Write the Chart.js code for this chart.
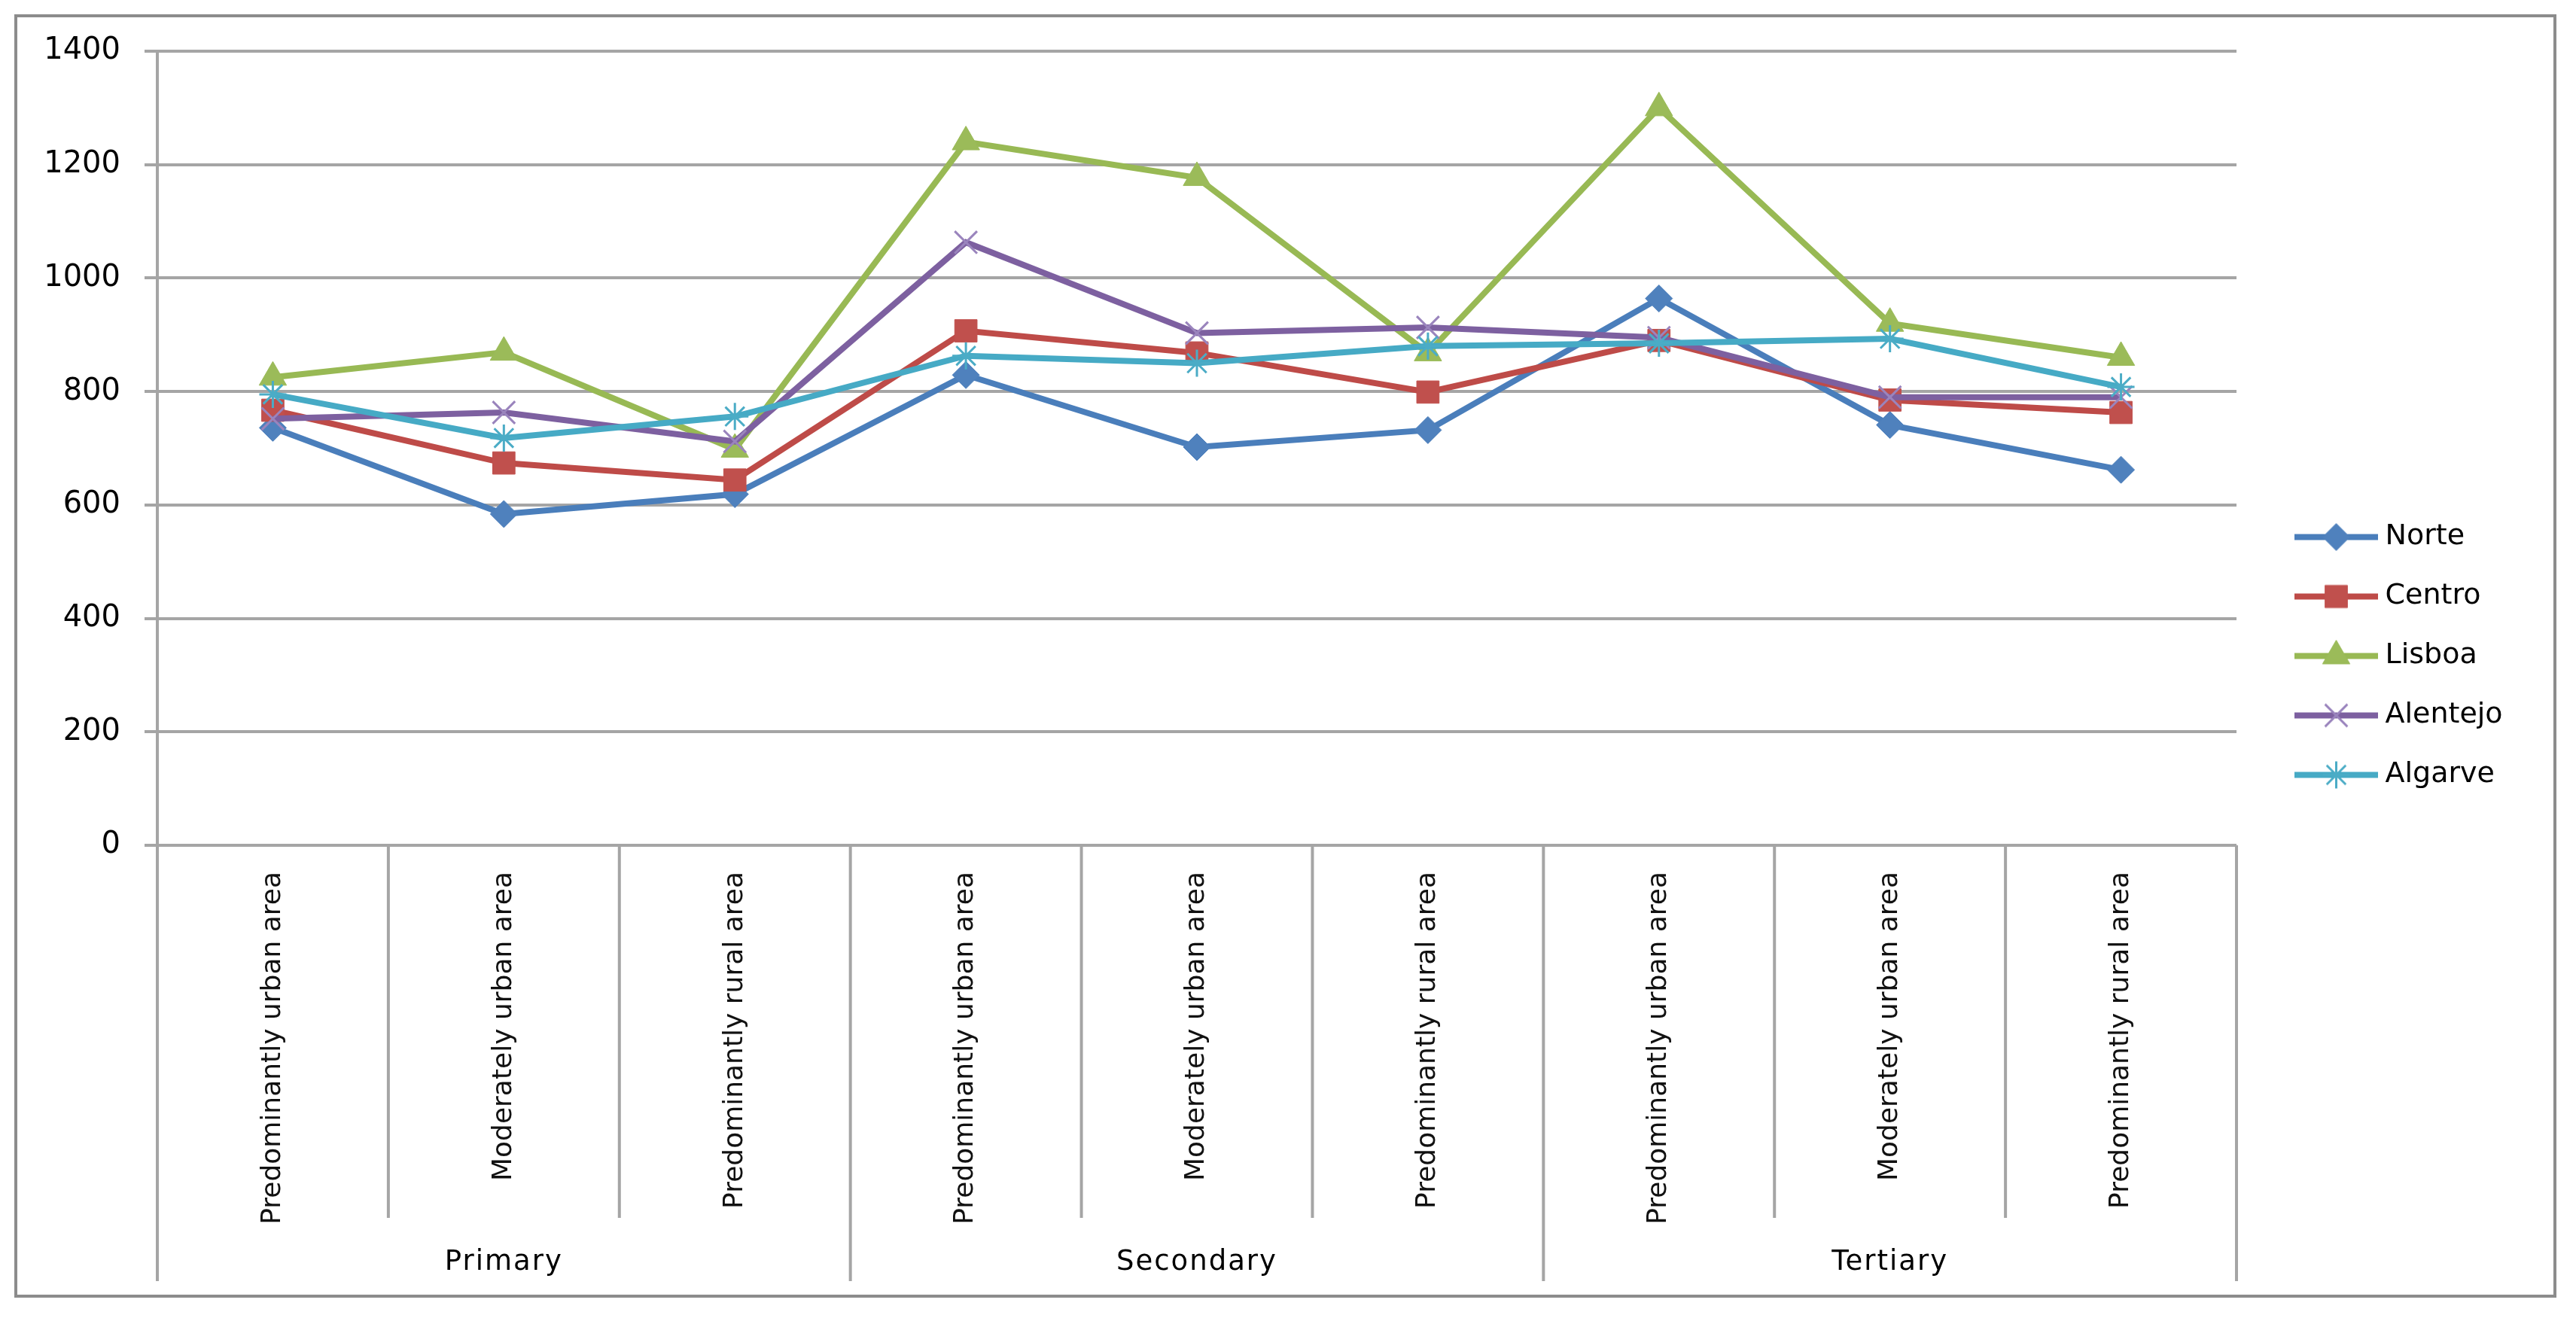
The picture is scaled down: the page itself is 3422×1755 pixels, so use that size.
<!DOCTYPE html>
<html>
<head>
<meta charset="utf-8">
<title>Values by region, sector and area type</title>
<script src="https://cdn.jsdelivr.net/npm/chart.js@4.4.1/dist/chart.umd.min.js"></script>
<style>
  html, body { margin: 0; padding: 0; background: #fff; }
  canvas { display: block; }
</style>
</head>
<body>
<canvas id="chart" width="3422" height="1755"></canvas>
<script>
// --- data ---
const categories = [
  'Predominantly urban area', 'Moderately urban area', 'Predominantly rural area',
  'Predominantly urban area', 'Moderately urban area', 'Predominantly rural area',
  'Predominantly urban area', 'Moderately urban area', 'Predominantly rural area'
];
const groups = ['Primary', 'Secondary', 'Tertiary'];
const yTicks = [0, 200, 400, 600, 800, 1000, 1200, 1400];

const norte    = [736, 584, 619, 829, 702, 732, 964, 741, 662];
const centro   = [767, 674, 644, 907, 868, 799, 890, 785, 763];
const lisboa   = [825, 869, 698, 1240, 1177, 868, 1300, 920, 860];
const alentejo = [752, 763, 712, 1063, 903, 913, 895, 790, 790];
const algarve  = [795, 718, 756, 863, 850, 880, 885, 893, 808];

const GRID = '#a5a5a5';

function series(label, data, color, markerColor, style, radius, markerWidth, order) {
  return {
    label, data, order,
    borderColor: color,
    backgroundColor: color,
    borderWidth: 8,
    tension: 0,
    pointStyle: style,
    pointRadius: radius,
    pointBackgroundColor: markerColor,
    pointBorderColor: markerColor,
    pointBorderWidth: markerWidth
  };
}

const datasets = [
  series('Norte', norte, '#4a7ebb', '#4f81bd', 'rectRot', 18, 1, 4),
  series('Centro', centro, '#be4b48', '#c0504d', 'rect', 21, 1, 3),
  series('Lisboa', lisboa, '#98b954', '#9bbb59', 'triangle', 21, 1, 2),
  series('Alentejo', alentejo, '#7d60a0', '#9a84bd', 'crossRot', 21, 3, 1),
  series('Algarve', algarve, '#46aac5', '#4bacc6', 'star', 18, 3, 0)
];

// legend sample: a short line with the marker in the middle
function makeIcon(ds) {
  const c = document.createElement('canvas');
  c.width = 111;
  c.height = 46;
  const g = c.getContext('2d');
  g.strokeStyle = ds.borderColor;
  g.lineWidth = ds.borderWidth;
  g.beginPath();
  g.moveTo(0, 23);
  g.lineTo(111, 23);
  g.stroke();
  if (Chart.helpers && Chart.helpers.drawPoint) {
    g.fillStyle = ds.pointBackgroundColor;
    g.strokeStyle = ds.pointBorderColor;
    g.lineWidth = ds.pointBorderWidth;
    Chart.helpers.drawPoint(g, {
      pointStyle: ds.pointStyle,
      radius: ds.pointRadius,
      rotation: 0,
      borderWidth: ds.pointBorderWidth
    }, 55.5, 23);
  }
  return c;
}
const legendIcons = datasets.map(makeIcon);

// frame, category separators and the group row under the axis
const framePlugin = {
  id: 'frame',
  beforeDraw(chart) {
    const ctx = chart.ctx;
    ctx.save();
    ctx.fillStyle = '#fff';
    ctx.fillRect(0, 0, chart.width, chart.height);
    ctx.restore();
  },
  afterDraw(chart) {
    const ctx = chart.ctx;
    const x = chart.scales.x;
    const top = chart.chartArea.bottom;
    ctx.save();

    ctx.strokeStyle = '#8c8c8c';
    ctx.lineWidth = 4;
    ctx.strokeRect(21, 21, 3373, 1701);

    ctx.strokeStyle = GRID;
    ctx.lineWidth = 4;
    for (let k = 0; k <= categories.length; k++) {
      const px = x.getPixelForValue(k - 0.5);
      const end = k % 3 === 0 ? 1702 : 1618;
      ctx.beginPath();
      ctx.moveTo(px, top);
      ctx.lineTo(px, end);
      ctx.stroke();
    }

    ctx.fillStyle = '#000';
    ctx.font = '37px "DejaVu Sans"';
    ctx.textAlign = 'center';
    ctx.textBaseline = 'alphabetic';
    if ('letterSpacing' in ctx) ctx.letterSpacing = '2px';
    groups.forEach((name, g) => {
      ctx.fillText(name, x.getPixelForValue(g * 3 + 1), 1687);
    });
    ctx.restore();
  }
};

new Chart(document.getElementById('chart'), {
  type: 'line',
  data: { labels: categories, datasets },
  plugins: [framePlugin],
  options: {
    responsive: false,
    animation: false,
    devicePixelRatio: 1,
    events: [],
    layout: { padding: { top: 68, left: 0, right: 87.4, bottom: 80 } },
    plugins: {
      tooltip: { enabled: false },
      legend: {
        position: 'right',
        labels: {
          usePointStyle: true,
          pointStyleWidth: 92,
          padding: 41,
          color: '#000',
          font: { family: 'DejaVu Sans', size: 38 },
          sort: (a, b) => a.datasetIndex - b.datasetIndex,
          generateLabels(chart) {
            const items = Chart.defaults.plugins.legend.labels.generateLabels(chart);
            items.forEach(it => { it.pointStyle = legendIcons[it.datasetIndex]; });
            return items;
          }
        }
      }
    },
    scales: {
      x: {
        offset: true,
        afterFit: s => { s.height = 552; },
        grid: { display: false },
        border: { display: false },
        ticks: {
          autoSkip: false,
          minRotation: 90,
          maxRotation: 90,
          padding: 27,
          color: '#111',
          font: { family: 'DejaVu Sans', size: 36 }
        }
      },
      y: {
        min: yTicks[0],
        max: yTicks[yTicks.length - 1],
        afterBuildTicks: s => { s.ticks = yTicks.map(v => ({ value: v })); },
        afterFit: s => { s.width = 209; },
        grid: { color: GRID, lineWidth: 4, tickLength: 17, drawTicks: true },
        border: { display: true, color: GRID, width: 4 },
        ticks: {
          color: '#000',
          padding: 32,
          font: { family: 'DejaVu Sans', size: 40 },
          callback: v => String(v)
        }
      },
      // empty spacer between plot and legend
      gap: {
        type: 'linear',
        position: 'right',
        display: true,
        afterFit: s => { s.width = 45.5; },
        grid: { display: false, drawTicks: false },
        border: { display: false },
        ticks: { display: false }
      }
    }
  }
});
</script>
</body>
</html>
